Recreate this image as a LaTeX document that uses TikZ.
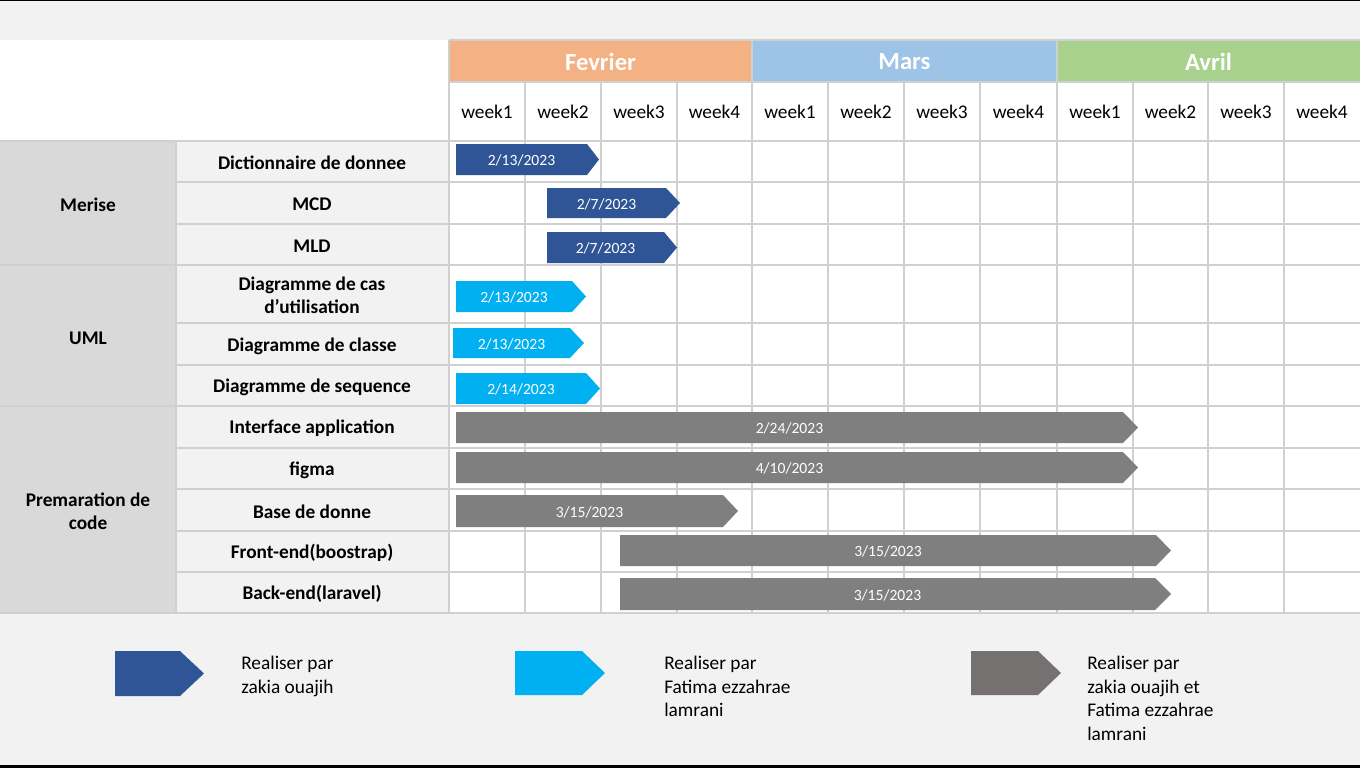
\documentclass[tikz,border=0pt]{standalone}
\usepackage{fontspec}
\setmainfont{Carlito}
\definecolor{bgc}{HTML}{F2F2F2}
\definecolor{grpc}{HTML}{D9D9D9}
\definecolor{gridc}{HTML}{D0D0D0}
\definecolor{febc}{HTML}{F4B183}
\definecolor{marc}{HTML}{9DC3E6}
\definecolor{avrc}{HTML}{A9D18E}
\definecolor{dblue}{HTML}{2F5597}
\definecolor{cyanc}{HTML}{00B0F0}
\definecolor{grayc}{HTML}{7F7F7F}
\definecolor{leggray}{HTML}{767171}
% name, x1, xrect, xpoint, y1, y2, colour, label
\newcommand\ganttbar[8]{%
  \fill[#7] (#2,#5) -- (#3,#5) -- (#4,{(#5+#6)/2}) -- (#3,#6) -- (#2,#6) -- cycle;
  \node[datelbl] (#1) at ({(#2+#3)/2},{(#5+#6)/2+1}) {#8};}
\begin{document}
\begin{tikzpicture}[x=0.75pt,y=-0.75pt,
  gridline/.style={draw=gridc,line width=1.2pt},
  monthlbl/.style={text=white,font=\fontsize{18.5}{22}\selectfont\bfseries,inner sep=0},
  weeklbl/.style={font=\fontsize{14.5}{17.5}\selectfont,inner sep=0},
  tasklbl/.style={font=\fontsize{14.5}{17.3}\selectfont\bfseries,align=center,inner sep=0},
  datelbl/.style={text=white,font=\fontsize{11.7}{14}\selectfont,inner sep=0},
  legtxt/.style={font=\fontsize{14.5}{17.6}\selectfont,align=left,anchor=north west,inner sep=0}]
\useasboundingbox (0,0) rectangle (1360,768);
% backgrounds
\fill[bgc] (0,0) rectangle (1360,768);
\fill[black] (0,0) rectangle (1360,1.3);
\fill[black] (0,765) rectangle (1360,768);
\fill[white] (0,40) rectangle (1360,613);
\fill[grpc] (0,141) rectangle (176,613);
\fill[bgc] (176,141) rectangle (449,613);
\fill[febc] (449,40) rectangle (752,82);
\fill[marc] (752,40) rectangle (1057,82);
\fill[avrc] (1057,40) rectangle (1360,82);
% grid
\foreach \yy in {182,224,323,365,448,489,531,572}
  \draw[gridline] (176,\yy) -- (1360,\yy);
\foreach \yy in {141,265,406,613}
  \draw[gridline] (0,\yy) -- (1360,\yy);
\draw[gridline] (449,82) -- (1360,82);
\draw[gridline] (449,40) -- (1360,40);
\draw[gridline] (176,141) -- (176,613);
\foreach \xx in {449,752,1057}
  \draw[gridline] (\xx,40) -- (\xx,613);
\foreach \xx in {525,601,677,828,904,980,1133,1208,1284}
  \draw[gridline] (\xx,82) -- (\xx,613);
% months
\node[monthlbl] (feb) at (600.5,62) {Fevrier};
\node[monthlbl] (mar) at (904.5,62) {Mars};
\node[monthlbl] (avr) at (1208.5,62) {Avril};
% weeks
\foreach \cx/\w [count=\i] in {487/1,563/2,639/3,714.5/4,790/1,866/2,942/3,1018.5/4,1095/1,1170.5/2,1246/3,1322/4}
  \node[weeklbl] (w\i) at (\cx,112) {week\w};
% groups
\node[tasklbl] (gmerise) at (88,204.5) {Merise};
\node[tasklbl] (guml) at (88,338.5) {UML};
\node[tasklbl] (gcode) at (88,511) {Premaration de\\code};
% tasks
\node[tasklbl] (t1) at (312,163) {Dictionnaire de donnee};
\node[tasklbl] (t2) at (312,204.5) {MCD};
\node[tasklbl] (t3) at (312,246) {MLD};
\node[tasklbl] (t4) at (312,295.5) {Diagramme de cas\\d’utilisation};
\node[tasklbl] (t5) at (312,346) {Diagramme de classe};
\node[tasklbl] (t6) at (312,387) {Diagramme de sequence};
\node[tasklbl] (t7) at (312,428.5) {Interface application};
\node[tasklbl] (t8) at (312,470) {figma};
\node[tasklbl] (t9) at (312,511.5) {Base de donne};
\node[tasklbl] (t10) at (312,553) {Front-end(boostrap)};
\node[tasklbl] (t11) at (312,594) {Back-end(laravel)};
% bars
\ganttbar{b1}{456}{587}{599}{144}{175}{dblue}{2/13/2023}
\ganttbar{b2}{547}{666}{680}{188}{218}{dblue}{2/7/2023}
\ganttbar{b3}{547}{664}{677}{232}{263}{dblue}{2/7/2023}
\ganttbar{b4}{456}{572}{586}{281}{312}{cyanc}{2/13/2023}
\ganttbar{b5}{453}{570}{584}{328}{358}{cyanc}{2/13/2023}
\ganttbar{b6}{456}{586}{600}{373}{404}{cyanc}{2/14/2023}
\ganttbar{b7}{456}{1123}{1138}{412}{443}{grayc}{2/24/2023}
\ganttbar{b8}{456}{1123}{1138}{452}{483}{grayc}{4/10/2023}
\ganttbar{b9}{456}{723}{738}{495}{527}{grayc}{3/15/2023}
\ganttbar{b10}{620}{1156}{1171}{535}{566}{grayc}{3/15/2023}
\ganttbar{b11}{620}{1155}{1171}{578}{610}{grayc}{3/15/2023}
% legend
\fill[dblue] (115,651) -- (180,651) -- (204,673.5) -- (180,696) -- (115,696) -- cycle;
\fill[cyanc] (515,651) -- (582,651) -- (605,673) -- (582,695) -- (515,695) -- cycle;
\fill[leggray] (971,651) -- (1038,651) -- (1061,673) -- (1038,695) -- (971,695) -- cycle;
\node[legtxt] (lg1) at (241,656) {Realiser par\\zakia ouajih};
\node[legtxt] (lg2) at (664,656) {Realiser par\\Fatima ezzahrae\\lamrani};
\node[legtxt] (lg3) at (1087,656) {Realiser par\\zakia ouajih et\\Fatima ezzahrae\\lamrani};
\end{tikzpicture}
\end{document}
